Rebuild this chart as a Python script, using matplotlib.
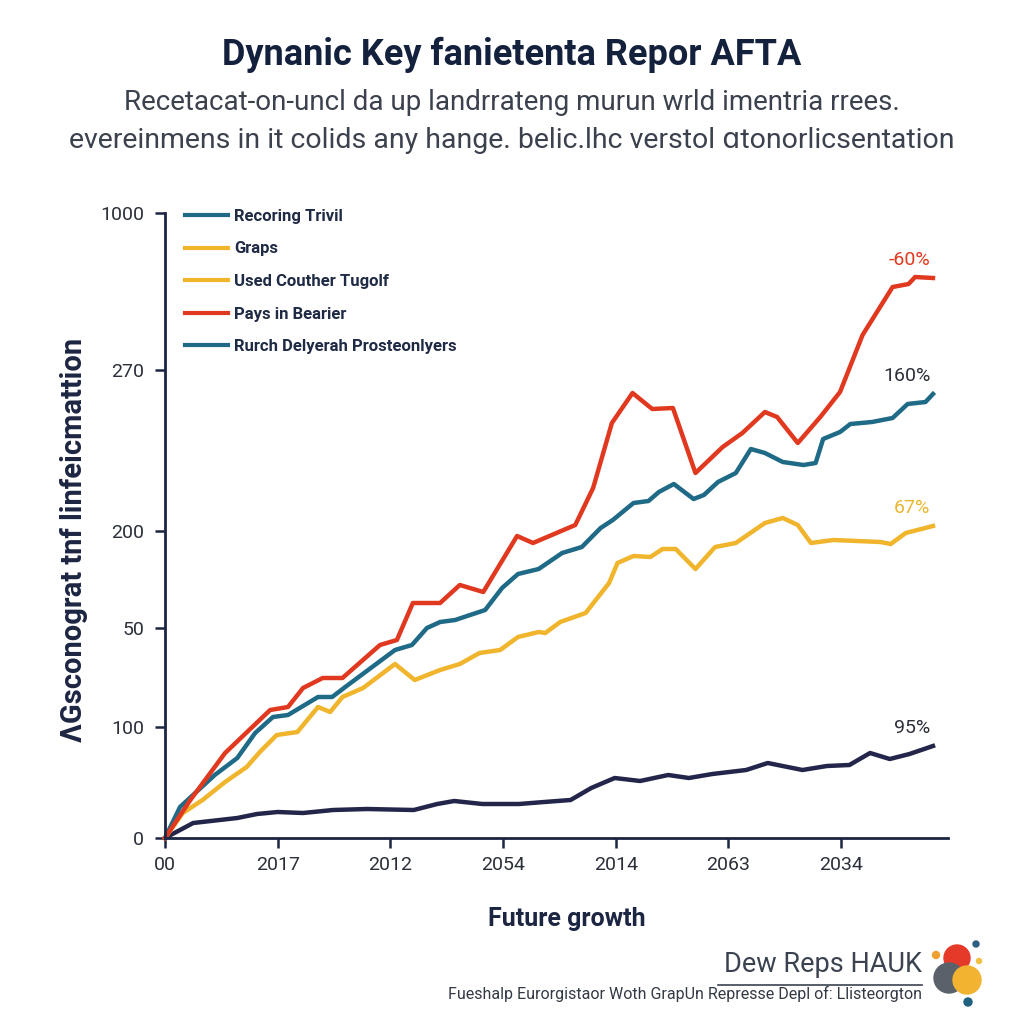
import numpy as np
import matplotlib
matplotlib.use('Agg')
import matplotlib.pyplot as plt
from matplotlib.lines import Line2D
from matplotlib.patches import Circle

plt.rcParams['font.family'] = ['Roboto', 'DejaVu Sans']

# months since start, value (chart units)
red_x = [0, 2.7, 6.4, 11.2, 13.1, 14.7, 16.8, 18.9, 22.9, 24.7, 26.4, 29.3, 31.4, 33.9, 37.5, 39.2,
         43.7, 45.6, 47.6, 49.8, 51.9, 54.1, 56.5, 59.4, 61.5, 63.9, 65.2, 67.4, 69.8, 71.9, 74.3,
         77.5, 79.2, 79.9, 81.8]
red_y = [0, 38, 85, 128, 131, 150, 160, 160, 193, 198, 235, 235, 253, 246, 302, 295,
         313, 350, 415, 445, 429, 430, 365, 391, 405, 426, 421, 395, 421, 446, 503,
         551, 554, 561, 560]

teal_x = [0, 1.6, 5.3, 7.7, 9.6, 11.5, 13.1, 16.3, 17.8, 19.2, 24.5, 26.3, 27.9, 29.3, 30.9, 34.1,
          35.9, 37.6, 39.8, 42.3, 44.4, 46.4, 47.7, 49.9, 51.5, 52.6, 54.2, 56.3, 57.4, 58.9, 60.8,
          62.4, 63.9, 65.8, 68.0, 69.3, 70.1, 71.9, 73.0, 75.3, 77.5, 79.1, 81.0, 81.8]
teal_y = [0, 31, 63, 80, 105, 121, 123, 141, 141, 151, 188, 193, 210, 216, 218, 228,
          250, 264, 269, 285, 291, 310, 318, 335, 337, 346, 354, 339, 343, 356, 365,
          389, 385, 376, 373, 375, 399, 406, 414, 416, 420, 434, 436, 444]

yel_x = [0, 1.9, 4.0, 6.4, 8.7, 10.1, 11.9, 14.1, 16.3, 17.6, 18.9, 21.1, 24.5, 26.6, 29.3, 31.4,
         33.5, 35.7, 37.6, 39.8, 40.5, 42.1, 44.8, 47.3, 48.2, 49.9, 51.7, 53.0, 54.4, 56.5, 58.6,
         60.8, 63.9, 65.8, 67.4, 68.8, 71.2, 76.2, 77.3, 78.9, 81.8]
yel_y = [0, 25, 38, 56, 71, 86, 103, 106, 131, 126, 141, 150, 174, 158, 168, 174,
         185, 188, 201, 206, 205, 216, 225, 255, 275, 282, 281, 289, 289, 269, 291,
         295, 315, 320, 313, 295, 298, 296, 294, 305, 312]

navy_x = [0, 3.0, 7.7, 9.8, 12.0, 14.7, 17.9, 21.5, 26.5, 29.0, 30.8, 33.8, 37.7, 40.4, 43.2,
          45.4, 47.9, 50.6, 53.6, 55.8, 58.3, 61.9, 64.2, 67.9, 70.5, 72.9, 75.1, 77.2, 79.3, 81.8]
navy_y = [0, 15, 20, 24, 26, 25, 28, 29, 28, 34, 37, 34, 34, 36, 38,
          50, 60, 57, 63, 60, 64, 68, 75, 68, 72, 73, 85, 79, 84, 92]

xtick_pos = [0, 12, 24, 36, 48, 60, 72]
xtick_labels = ['00', '2017', '2012', '2054', '2014', '2063', '2034']
ytick_pos = [0, 111, 210, 307, 468, 625]
ytick_labels = ['0', '100', '50', '200', '270', '1000']

legend_labels = ['Recoring Trivil', 'Graps', 'Used Couther Tugolf', 'Pays in Bearier',
                 'Rurch Delyerah Prosteonlyers']
end_labels = ['-60%', '160%', '67%', '95%']

RED = '#e0391f'
TEAL = '#1f6a86'
YEL = '#f0b52c'
NAVY = '#23264a'
DARK = '#1c2541'

fig = plt.figure(figsize=(10.24, 10.24), dpi=100)
fig.patch.set_facecolor('white')
ax = fig.add_axes([165/1024, 1-838/1024, 783/1024, 625/1024])

ax.plot(navy_x, navy_y, color=NAVY, lw=3.2, solid_joinstyle='round', clip_on=False)
ax.plot(yel_x, yel_y, color=YEL, lw=3.2, solid_joinstyle='round', clip_on=False)
ax.plot(teal_x, teal_y, color=TEAL, lw=3.2, solid_joinstyle='round', clip_on=False)
ax.plot(red_x, red_y, color=RED, lw=3.2, solid_joinstyle='round', clip_on=False)

ax.set_xlim(0, 83.4)
ax.set_ylim(0, 625)
ax.set_xticks(xtick_pos)
ax.set_xticklabels(xtick_labels)
ax.set_yticks(ytick_pos)
ax.set_yticklabels(ytick_labels)
ax.tick_params(axis='both', colors=DARK, labelcolor='#2a2f3a', labelsize=14, width=1.8, length=7)
ax.tick_params(axis='x', pad=6)
ax.tick_params(axis='y', pad=8)
for s in ['top', 'right']:
    ax.spines[s].set_visible(False)
for s in ['left', 'bottom']:
    ax.spines[s].set_color(DARK)
    ax.spines[s].set_linewidth(2)

ax.set_ylabel('ΛGsconograt tnf linfeicmattion', fontsize=21, fontweight='bold', color=DARK)
ax.yaxis.set_label_coords(-0.098, 0.477)
ax.set_xlabel('Future growth', fontsize=18, fontweight='bold', color=DARK)
ax.xaxis.set_label_coords(0.513, -0.11)

# end labels
ends = [(red_x, red_y, RED), (teal_x, teal_y, '#2b2f3a'), (yel_x, yel_y, '#e8b730'),
        (navy_x, navy_y, '#2b2f3a')]
for (xs, ys, c), lab in zip(ends, end_labels):
    ax.annotate(lab, (xs[-1], ys[-1]), xytext=(-2, 13), textcoords='offset points',
                ha='right', va='center', fontsize=14, color=c)

# legend
handles = [Line2D([], [], color=c, lw=3) for c in [TEAL, YEL, YEL, RED, TEAL]]
ax.legend(handles, legend_labels, loc='upper left', bbox_to_anchor=(185/1024, 1-209/1024),
          bbox_transform=fig.transFigure, frameon=False, handlelength=2.6, handletextpad=0.35,
          labelspacing=1.05, borderpad=0, borderaxespad=0,
          prop={'size': 12, 'weight': 'bold'}, labelcolor='#1f2a44')

# titles
fig.text(0.5, 1-55/1024, 'Dynanic Key fanietenta Repor AFTA', ha='center', va='center',
         fontsize=26, fontweight='bold', color='#14213d')
fig.text(0.5, 1-102/1024, 'Recetacat-on-uncl da up landrrateng murun wrld imentria rrees.',
         ha='center', va='center', fontsize=20, color='#3b414d')
fig.text(0.5, 1-140/1024, 'evereinmens in it colids any hange. belic.lhc verstol ɑtonorlicsentation',
         ha='center', va='center', fontsize=20.5, color='#3b414d')

# footer
fig.text(922/1024, 1-965/1024, 'Dew Reps HAUK', ha='right', va='center', fontsize=19.5, color='#3b4350')
fig.add_artist(Line2D([718/1024, 922/1024], [1-985/1024, 1-985/1024], color='#3b4350', lw=1.2))
fig.text(922/1024, 1-994/1024, 'Fueshalp Eurorgistaor Woth GrapUn Represse Depl of: Llisteorgton',
         ha='right', va='center', fontsize=11.5, color='#333a45')
for (cx, cy, r, c) in [(957, 958, 13, '#e5392a'), (949, 978, 15, '#5a616b'), (967, 980, 14, '#f2b330'),
                       (936, 955, 3.5, '#f0a030'), (976, 944, 3, '#2f5f80'), (979, 961, 2.5, '#f2c040'),
                       (968, 1002, 4, '#1f5f7f')]:
    fig.add_artist(Circle((cx/1024, 1-cy/1024), r/1024, color=c, transform=fig.transFigure))

fig.savefig('out.png', dpi=100)
